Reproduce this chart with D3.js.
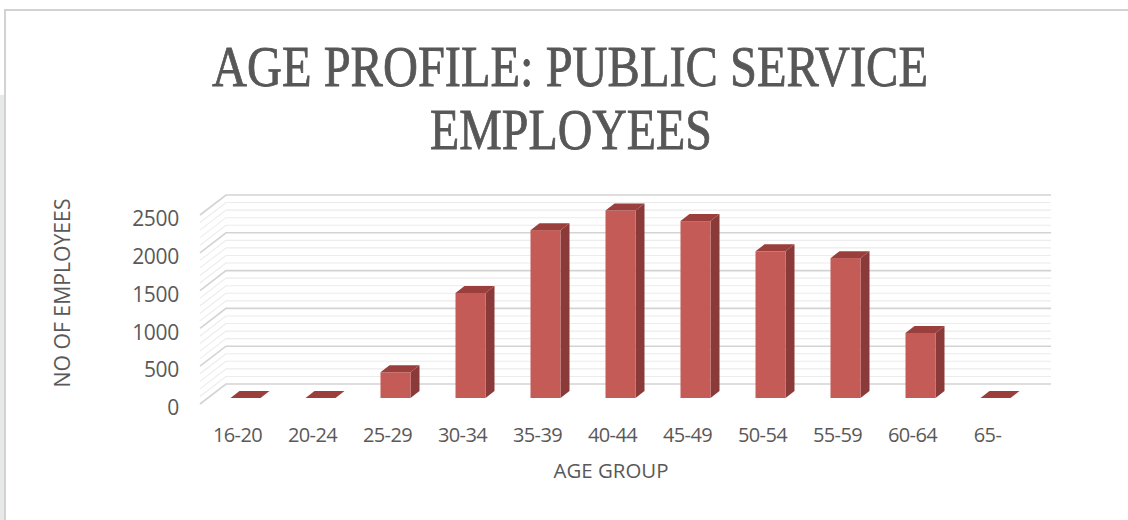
<!DOCTYPE html>
<html>
<head>
<meta charset="utf-8">
<script src="https://cdn.jsdelivr.net/npm/d3@7"></script>
<style>
  html, body { margin: 0; padding: 0; background: #ffffff; }
  svg { display: block; }
</style>
</head>
<body>
<svg id="chart" width="1128" height="520"></svg>
<script>
// Age groups and head counts
const ageGroups = ["16-20", "20-24", "25-29", "30-34", "35-39", "40-44", "45-49", "50-54", "55-59", "60-64", "65-"];
const employees = [0, 0, 340, 1390, 2220, 2480, 2340, 1940, 1850, 860, 0];
const yTickValues = [0, 500, 1000, 1500, 2000, 2500];
const gridValues = d3.range(0, 2501, 100);

const titleLines = ["AGE PROFILE: PUBLIC SERVICE", "EMPLOYEES"];
const xTitle = "AGE GROUP";
const yTitle = "NO  OF EMPLOYEES";

const svg = d3.select("#chart");
const textColor = "#595959";

// Page frame
svg.append("rect").attr("x", 0).attr("y", 95).attr("width", 4).attr("height", 425).attr("fill", "#e7e9e9");
svg.append("line").attr("x1", 5).attr("x2", 1128).attr("y1", 10).attr("y2", 10)
  .attr("stroke", "#d2d2d2").attr("stroke-width", 2);
svg.append("line").attr("x1", 5).attr("x2", 5).attr("y1", 9).attr("y2", 520)
  .attr("stroke", "#d2d2d2").attr("stroke-width", 2);

// Title, two lines
const title = svg.append("g").attr("fill", "#575757").attr("stroke", "#575757").attr("stroke-width", 0.8)
  .attr("font-family", "'Liberation Serif', 'DejaVu Serif', serif")
  .attr("font-size", 57).attr("text-anchor", "middle");
title.append("text").attr("x", 570).attr("y", 86)
  .attr("textLength", 716).attr("lengthAdjust", "spacingAndGlyphs").text(titleLines[0]);
title.append("text").attr("x", 571).attr("y", 149)
  .attr("textLength", 282).attr("lengthAdjust", "spacingAndGlyphs").text(titleLines[1]);

// Scales: the bars' front plane
const x = d3.scaleBand().domain(ageGroups).range([208, 1033]).paddingInner(0.6).paddingOuter(0.3);
const y = d3.scaleLinear().domain([0, 2500]).range([398, 209]);

// Oblique depth offsets
const barDx = 9, barDy = -7;          // bar depth
const backDx = 18, backDy = -14;      // back wall relative to bar front plane
const frontDx = -8, frontDy = 6;      // front edge of floor/side wall

const left = x.range()[0], right = x.range()[1];

// Gridlines on the side and back walls
const grid = svg.append("g");
gridValues.forEach(v => {
  const major = v % 500 === 0;
  const yy = y(v);
  grid.append("path")
    .attr("d", `M${left + frontDx},${yy + frontDy}L${left + backDx},${yy + backDy}L${right + backDx},${yy + backDy}`)
    .attr("fill", "none")
    .attr("stroke", major ? "#d3d3d3" : "#ececec")
    .attr("stroke-width", major ? 1.6 : 1.1);
});

// 3D bars
const bars = svg.append("g").selectAll("g").data(ageGroups.map((g, i) => ({ g, v: employees[i] }))).join("g");
const bw = x.bandwidth();
const y0 = y(0);
bars.append("path") // side face
  .attr("d", d => {
    const x1 = x(d.g) + bw, yt = y(d.v);
    return `M${x1},${yt}L${x1 + barDx},${yt + barDy}L${x1 + barDx},${y0 + barDy}L${x1},${y0}Z`;
  })
  .attr("fill", "#8a3a39");
bars.append("rect") // front face
  .attr("x", d => x(d.g)).attr("y", d => y(d.v))
  .attr("width", bw).attr("height", d => y0 - y(d.v))
  .attr("fill", "#c55b56");
bars.append("path") // top face
  .attr("d", d => {
    const x0 = x(d.g), yt = y(d.v);
    return `M${x0},${yt}L${x0 + barDx},${yt + barDy}L${x0 + bw + barDx},${yt + barDy}L${x0 + bw},${yt}Z`;
  })
  .attr("fill", "#9b3f3d");

// Axes
const axisFont = "'Open Sans', 'Liberation Sans', sans-serif";
const yAxis = svg.append("g")
  .attr("transform", `translate(${left + frontDx - 21},${frontDy + 4})`)
  .call(d3.axisLeft(y).tickValues(yTickValues).tickSize(0).tickPadding(0).tickFormat(d3.format("d")));
yAxis.select(".domain").remove();
yAxis.selectAll("text").attr("font-family", axisFont).attr("font-size", 21).attr("fill", textColor)
  .attr("letter-spacing", -0.3);

const xAxis = svg.append("g")
  .attr("transform", `translate(${frontDx},${y0 + 30})`)
  .call(d3.axisBottom(x).tickSize(0).tickPadding(0));
xAxis.select(".domain").remove();
xAxis.selectAll("text").attr("font-family", axisFont).attr("font-size", 20).attr("fill", textColor)
  .attr("letter-spacing", -0.6);

// Axis titles
svg.append("text").attr("x", 611).attr("y", 478).attr("text-anchor", "middle")
  .attr("font-family", axisFont).attr("font-size", 20).attr("fill", textColor)
  .attr("textLength", 115).attr("lengthAdjust", "spacingAndGlyphs").text(xTitle);
svg.append("text").attr("transform", "translate(70,293) rotate(-90)").attr("text-anchor", "middle")
  .attr("font-family", axisFont).attr("font-size", 21).attr("fill", textColor)
  .attr("textLength", 189).attr("lengthAdjust", "spacingAndGlyphs").text(yTitle);
</script>
</body>
</html>
